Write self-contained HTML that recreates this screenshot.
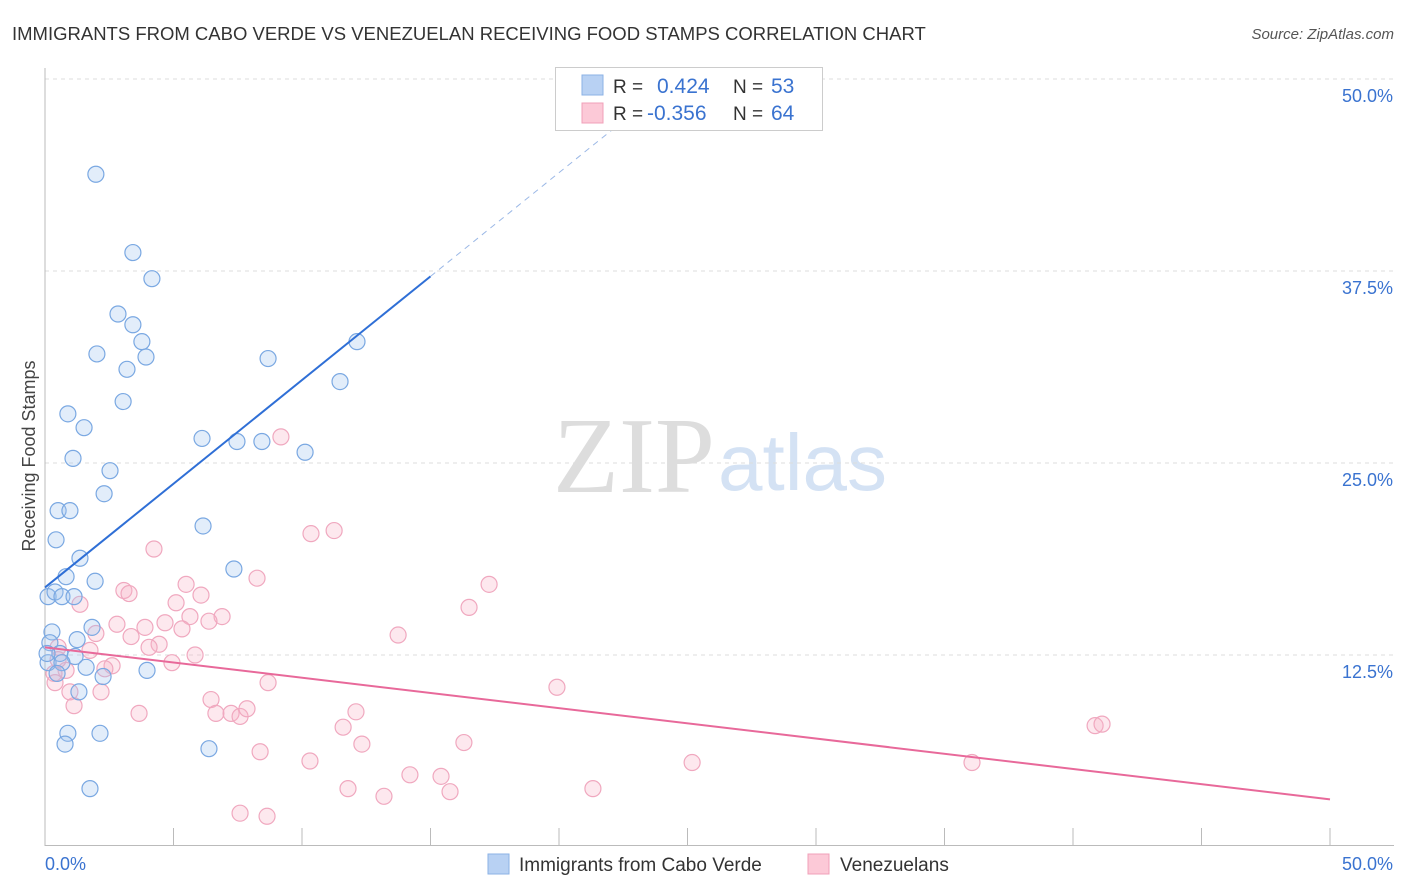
<!DOCTYPE html>
<html><head><meta charset="utf-8"><style>
body{margin:0;background:#fff;font-family:"Liberation Sans",sans-serif;}
#wrap{position:relative;width:1406px;height:892px;overflow:hidden;}
</style></head><body>
<div id="wrap">
<svg id="chart" width="1406" height="892">
<text x="12" y="40" font-size="18.5" fill="#333">IMMIGRANTS FROM CABO VERDE VS VENEZUELAN RECEIVING FOOD STAMPS CORRELATION CHART</text>
<text x="1394" y="39" font-size="15" fill="#555" font-style="italic" text-anchor="end">Source: ZipAtlas.com</text>
<text x="35" y="456" font-size="18" fill="#444" transform="rotate(-90 35 456)" text-anchor="middle">Receiving Food Stamps</text>
<text x="553" y="492" font-size="108" fill="#ddd" font-family="Liberation Serif,serif">ZIP</text>
<text x="718" y="490" font-size="80" fill="#d4e2f4">atlas</text>
<g id="grid"></g><g id="marks"></g>
<g>
<rect x="555.5" y="67.5" width="267" height="63" fill="#fff" stroke="#ccc"/>
<rect x="582" y="75" width="21" height="20" fill="#b8d1f3" stroke="#8bb2e6"/>
<rect x="582" y="103" width="21" height="20" fill="#fcc9d7" stroke="#f0a0b8"/>
<text x="613" y="93" font-size="19" fill="#333">R =</text>
<text x="657" y="93" font-size="21" fill="#3a73d0">0.424</text>
<text x="733" y="93" font-size="19" fill="#333">N =</text>
<text x="771" y="93" font-size="21" fill="#3a73d0">53</text>
<text x="613" y="120" font-size="19" fill="#333">R =</text>
<text x="647" y="120" font-size="21" fill="#3a73d0">-0.356</text>
<text x="733" y="120" font-size="19" fill="#333">N =</text>
<text x="771" y="120" font-size="21" fill="#3a73d0">64</text>
</g>
<g>
<rect x="488" y="854" width="21" height="20" fill="#b8d1f3" stroke="#8bb2e6"/>
<text x="519" y="871" font-size="19" fill="#333">Immigrants from Cabo Verde</text>
<rect x="808" y="854" width="21" height="20" fill="#fcc9d7" stroke="#f0a0b8"/>
<text x="840" y="871" font-size="19" fill="#333">Venezuelans</text>
</g>
</svg>
</div>
<script>
const blueX=[1.98,3.42,4.16,2.84,3.42,3.77,3.93,2.02,3.19,8.68,12.14,11.48,3.04,0.89,1.52,6.11,7.47,8.44,10.12,1.09,2.53,2.30,0.51,0.97,6.15,0.43,1.36,0.82,1.95,7.35,0.12,0.39,0.66,1.13,1.83,0.27,1.25,0.19,0.58,1.17,0.12,0.66,1.60,3.97,0.47,2.26,1.32,0.89,0.78,2.14,6.38,1.75,0.08];
const blueY=[43.8,38.7,37.0,34.7,34.0,32.9,31.9,32.1,31.1,31.8,32.9,30.3,29.0,28.2,27.3,26.6,26.4,26.4,25.7,25.3,24.5,23.0,21.9,21.9,20.9,20.0,18.8,17.6,17.3,18.1,16.3,16.6,16.3,16.3,14.3,14.0,13.5,13.3,12.6,12.4,12.0,12.0,11.7,11.5,11.3,11.1,10.1,7.4,6.7,7.4,6.4,3.8,12.6];
const pinkX=[9.18,10.35,11.25,4.24,8.25,17.28,5.49,3.07,3.27,6.07,1.36,16.50,5.10,5.64,6.89,6.38,4.67,2.80,3.89,5.33,1.98,13.74,3.35,4.44,4.05,1.75,0.51,5.84,4.94,2.61,2.33,0.82,0.35,0.39,8.68,19.92,0.97,6.46,2.18,1.13,3.66,6.65,7.24,7.59,7.86,12.10,11.60,40.86,41.13,8.37,12.33,16.30,10.31,25.18,36.07,14.20,15.41,11.79,13.19,15.76,21.32,7.59,8.64,0.51];
const pinkY=[26.7,20.4,20.6,19.4,17.5,17.1,17.1,16.7,16.5,16.4,15.8,15.6,15.9,15.0,15.0,14.7,14.6,14.5,14.3,14.2,13.9,13.8,13.7,13.2,13.0,12.8,13.0,12.5,12.0,11.8,11.6,11.5,11.3,10.7,10.7,10.4,10.1,9.6,10.1,9.2,8.7,8.7,8.7,8.5,9.0,8.8,7.8,7.9,8.0,6.2,6.7,6.8,5.6,5.5,5.5,4.7,4.6,3.8,3.3,3.6,3.8,2.2,2.0,12.2];
const yTicks=[12.5,25,37.5,50];
const yTickLabels=["12.5%","25.0%","37.5%","50.0%"];
const xTicks=[0,5,10,15,20,25,30,35,40,45,50];
const blueTrend=[16.9,1.35]; // intercept, slope
const pinkTrend=[13.0,-0.198];

const xs=v=>45+v*25.7, ys=v=>847-v*15.36;
const NS="http://www.w3.org/2000/svg";
const grid=document.getElementById('grid'), marks=document.getElementById('marks');
function mk(tag,attrs,parent){const e=document.createElementNS(NS,tag);for(const k in attrs)e.setAttribute(k,attrs[k]);parent.appendChild(e);return e;}
yTicks.forEach((t,i)=>{
  const l=mk('line',{x1:45,x2:1394,y1:ys(t),y2:ys(t),stroke:'#ddd','stroke-dasharray':'4,4'},grid);
  
  
  const tx=mk('text',{x:1393,y:ys(t)+23,'font-size':18,fill:'#3a73d0','text-anchor':'end'},grid);
  tx.textContent=yTickLabels[i];
  
  
});
const ax=mk('line',{x1:45,x2:45,y1:68,y2:846,stroke:'#bbb'},grid);


const bx=mk('line',{x1:45,x2:1394,y1:845.5,y2:845.5,stroke:'#bbb'},grid);


xTicks.forEach(t=>{
  const l=mk('line',{x1:xs(t),x2:xs(t),y1:828,y2:846,stroke:'#bbb'},grid);
  
  
});
const xl0=mk('text',{x:45,y:870,'font-size':18,fill:'#3a73d0'},grid);xl0.textContent='0.0%';


const xl1=mk('text',{x:1393,y:870,'font-size':18,fill:'#3a73d0','text-anchor':'end'},grid);xl1.textContent='50.0%';



pinkX.forEach((x,i)=>{
  const c=mk('circle',{cx:xs(x),cy:ys(pinkY[i]),r:8,fill:'rgba(248,180,200,0.3)',stroke:'#f0a8bf','stroke-width':1.2},marks);
  
  
});
blueX.forEach((x,i)=>{
  const c=mk('circle',{cx:xs(x),cy:ys(blueY[i]),r:8,fill:'rgba(160,195,240,0.3)',stroke:'#7aa8e2','stroke-width':1.2},marks);
  
  
});
const bt=mk('line',{x1:xs(0),y1:ys(blueTrend[0]),x2:xs(15),y2:ys(blueTrend[0]+15*blueTrend[1]),stroke:'#2f6fd6','stroke-width':2},marks);


const bd=mk('line',{x1:xs(15),y1:ys(blueTrend[0]+15*blueTrend[1]),x2:xs(23.5),y2:ys(blueTrend[0]+23.5*blueTrend[1]),stroke:'#9bb8e6','stroke-width':1,'stroke-dasharray':'6,5'},marks);


const pt=mk('line',{x1:xs(0),y1:ys(pinkTrend[0]),x2:xs(50),y2:ys(pinkTrend[0]+50*pinkTrend[1]),stroke:'#e8699a','stroke-width':2},marks);


</script>
</body></html>
